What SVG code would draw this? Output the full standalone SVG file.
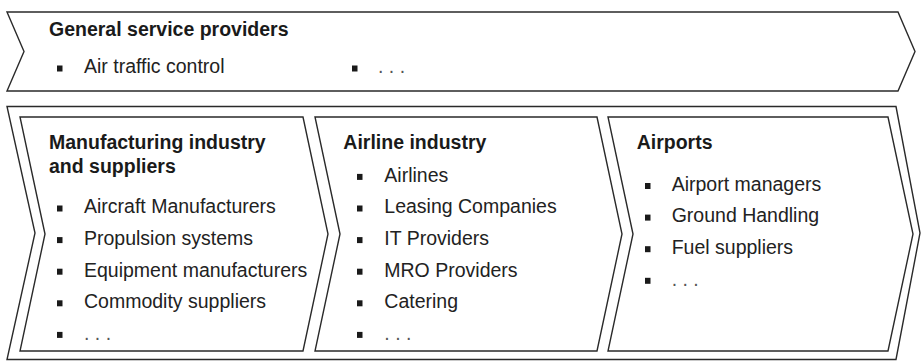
<svg xmlns="http://www.w3.org/2000/svg" width="922" height="361" viewBox="0 0 922 361">
  <style>
    .chev { fill: #ffffff; stroke: #2a2a2a; stroke-width: 1.4; stroke-linejoin: miter; }
    .head { font-family: "Liberation Sans", Arial, sans-serif; font-size: 19.5px; font-weight: bold; fill: #1a1a1a; }
    .item { font-family: "Liberation Sans", Arial, sans-serif; font-size: 19.5px; fill: #222222; }
    .dots { font-family: "Liberation Sans", Arial, sans-serif; font-size: 19.5px; fill: #555555; }
    .bul { fill: #1a1a1a; }
  </style>
  <rect width="922" height="361" fill="#ffffff"/>

  <!-- top band: general service providers -->
  <g id="general-service-providers">
    <polygon class="chev" points="7,12 898,12 915,51.5 898,91 7,91 24,51.5"/>
    <text class="head" x="49" y="36">General service providers</text>
    <rect class="bul" x="57" y="65.5" width="5.5" height="6"/>
    <text class="item" x="84" y="72.7">Air traffic control</text>
    <rect class="bul" x="352" y="65.5" width="5.5" height="6"/>
    <text class="dots" x="378" y="72.7">. . .</text>
  </g>

  <!-- outer band holding the value chain -->
  <g id="value-chain">
    <polygon class="chev" points="7,106.5 896,106.5 920,233 896,359.5 7,359.5 35,233"/>
  </g>

  <g id="manufacturing">
    <polygon class="chev" points="20,117 303,117 328,234 303,351 20,351 45,234"/>
    <text class="head" x="49" y="149.3">Manufacturing industry</text>
    <text class="head" x="49" y="172.7">and suppliers</text>
    <rect class="bul" x="57" y="205.5" width="5.5" height="6"/>
    <text class="item" x="84" y="213.3">Aircraft Manufacturers</text>
    <rect class="bul" x="57" y="237.1" width="5.5" height="6"/>
    <text class="item" x="84" y="244.9">Propulsion systems</text>
    <rect class="bul" x="57" y="268.7" width="5.5" height="6"/>
    <text class="item" x="84" y="276.5">Equipment manufacturers</text>
    <rect class="bul" x="57" y="300.3" width="5.5" height="6"/>
    <text class="item" x="84" y="308.1">Commodity suppliers</text>
    <rect class="bul" x="57" y="331.9" width="5.5" height="6"/>
    <text class="dots" x="84" y="339.7">. . .</text>
  </g>

  <g id="airline-industry">
    <polygon class="chev" points="315,117 597,117 622,234 597,351 315,351 340,234"/>
    <text class="head" x="343.3" y="149.3">Airline industry</text>
    <rect class="bul" x="357" y="173.9" width="5.5" height="6"/>
    <text class="item" x="384.3" y="181.7">Airlines</text>
    <rect class="bul" x="357" y="205.5" width="5.5" height="6"/>
    <text class="item" x="384.3" y="213.3">Leasing Companies</text>
    <rect class="bul" x="357" y="237.1" width="5.5" height="6"/>
    <text class="item" x="384.3" y="244.9">IT Providers</text>
    <rect class="bul" x="357" y="268.7" width="5.5" height="6"/>
    <text class="item" x="384.3" y="276.5">MRO Providers</text>
    <rect class="bul" x="357" y="300.3" width="5.5" height="6"/>
    <text class="item" x="384.3" y="308.1">Catering</text>
    <rect class="bul" x="357" y="331.9" width="5.5" height="6"/>
    <text class="dots" x="384.3" y="339.7">. . .</text>
  </g>

  <g id="airports">
    <polygon class="chev" points="608,117 888,117 913,234 888,351 608,351 633,234"/>
    <text class="head" x="636.7" y="149.3">Airports</text>
    <rect class="bul" x="645" y="183" width="5.5" height="6"/>
    <text class="item" x="671.7" y="190.8">Airport managers</text>
    <rect class="bul" x="645" y="214.6" width="5.5" height="6"/>
    <text class="item" x="671.7" y="222.4">Ground Handling</text>
    <rect class="bul" x="645" y="246.2" width="5.5" height="6"/>
    <text class="item" x="671.7" y="254">Fuel suppliers</text>
    <rect class="bul" x="645" y="277.8" width="5.5" height="6"/>
    <text class="dots" x="671.7" y="285.6">. . .</text>
  </g>
</svg>
